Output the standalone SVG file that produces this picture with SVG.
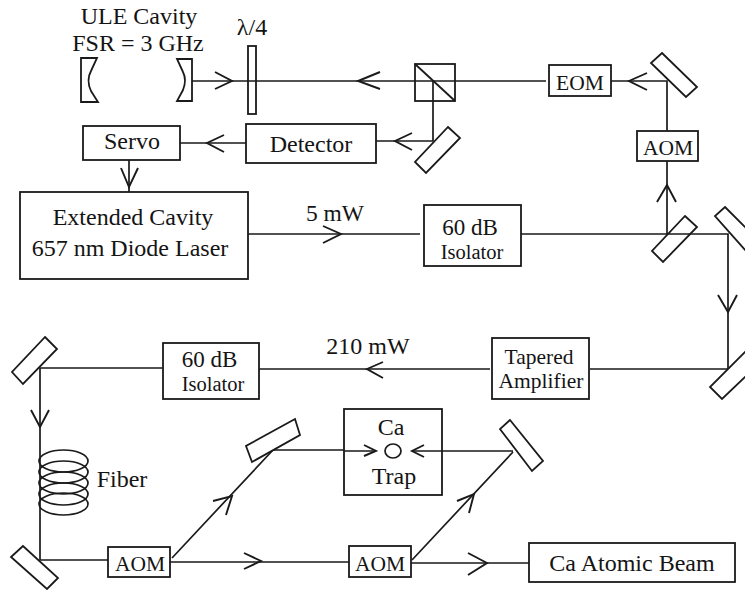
<svg xmlns="http://www.w3.org/2000/svg" width="745" height="590" viewBox="0 0 745 590">
<style>
text{font-family:"Liberation Serif","Times New Roman",serif;fill:#141414;text-anchor:middle;font-size:24px}
.a{font-size:21.5px}.s{font-size:20.5px}.d{font-size:23px}
.b{fill:#fff;stroke:#1a1a1a;stroke-width:1.8}
.o{fill:none;stroke:#1a1a1a;stroke-width:1.8}
.l{fill:none;stroke:#1a1a1a;stroke-width:1.7}
.h{fill:none;stroke:#1a1a1a;stroke-width:1.9}
</style>
<g id="connectors">
<path class="l" d="M192 81H546M611 81H667V131M667 161V234M433 81V141H376M246 143H180M129 160V192"/>
<path class="l" d="M248 234H420M521 234H728V369H590M490 369H259M163 368H40V560H108M170 562H349M411 563H529"/>
<path class="l" d="M172 558L273 450H344M412 560L513 452M412 451H513M344 451H376"/>
<path class="h" d="M215 72L232 81L215 89M380 72L358 81L380 89M647 73L629 81L647 90"/>
<path class="h" d="M412 133L395 141L412 150M224 135L207 143L224 152M121 168L129 187L138 168"/>
<path class="h" d="M323 226L341 234L323 243M657 202L667 185L676 202M718 295L728 312L737 295"/>
<path class="h" d="M383 362L367 369L383 378M31 410L40 427L49 410M213 501L232 496L226 515"/>
<path class="h" d="M244 553L261 561L244 569M468 553L487 563L468 575M457 501L474 494L469 513"/>
<path class="h" d="M364 445L376 451L364 456M424 445L412 451L424 457"/>
</g>
<g id="cavity">
<path class="o" d="M81 58H97L91 71Q86 80 91 91L98 102H81Z"/>
<path class="o" d="M192 59H177L183 72Q187 80 183 90L177 101H192Z"/>
<text x="139" y="24">ULE Cavity</text>
<text x="138" y="51">FSR = 3 GHz</text>
</g>
<g id="waveplate">
<rect class="o" x="248" y="46" width="8" height="68"/>
<text x="252" y="35">λ/4</text>
</g>
<g id="splitter">
<rect class="o" x="415" y="64" width="40" height="37"/>
<path class="o" d="M415 64L455 101"/>
</g>
<g id="eom"><rect class="b" x="549" y="65" width="62" height="31"/><text class="a" x="580" y="90">EOM</text></g>
<g id="mirror1"><polygon class="b" points="662,53 697,87 686,97 651,63"/></g>
<g id="mirror2"><polygon class="b" points="448,127 460,138 426,173 415,162"/></g>
<g id="aom1"><rect class="b" x="637" y="131" width="61" height="30"/><text class="a" x="668" y="155">AOM</text></g>
<g id="servo"><rect class="b" x="83" y="126" width="97" height="34"/><text x="132" y="149">Servo</text></g>
<g id="detector"><rect class="b" x="246" y="124" width="130" height="39"/><text x="311" y="152">Detector</text></g>
<g id="laser"><rect class="b" x="20" y="192" width="228" height="87"/><text x="133" y="225">Extended Cavity</text><text x="130" y="256">657 nm Diode Laser</text></g>
<g id="power5"><text x="335" y="221" style="font-size:23.5px">5 mW</text></g>
<g id="iso1"><rect class="b" x="424" y="205" width="97" height="61"/><text class="d" x="470" y="235">60 dB</text><text class="s" x="472" y="259">Isolator</text></g>
<g id="mirror3"><polygon class="o" points="685,216 697,227 663,262 652,251"/></g>
<g id="mirror4"><polygon class="b" points="725,207 746,228 746,251 715,216"/></g>
<g id="mirror5"><polygon class="b" points="746,351 710,387 722,399 746,376"/></g>
<g id="amp"><rect class="b" x="492" y="338" width="97" height="61"/><text class="a" x="539" y="364">Tapered</text><text class="a" x="541" y="388">Amplifier</text></g>
<g id="power210"><text x="368" y="354">210 mW</text></g>
<g id="iso2"><rect class="b" x="163" y="343" width="96" height="56"/><text class="d" x="209.500" y="367">60 dB</text><text class="s" x="213" y="391">Isolator</text></g>
<g id="mirror6"><polygon class="b" points="45,337 57,349 23,384 12,372"/></g>
<g id="fiber">
<ellipse class="l" cx="63.500" cy="461" rx="24.500" ry="11"/>
<ellipse class="l" cx="63.500" cy="472" rx="24.500" ry="11"/>
<ellipse class="l" cx="63.500" cy="483" rx="24.500" ry="11"/>
<ellipse class="l" cx="63.500" cy="494" rx="24.500" ry="11"/>
<ellipse class="l" cx="63.500" cy="504" rx="24.500" ry="11"/>
<text x="122" y="487">Fiber</text>
</g>
<g id="mirror7"><polygon class="b" points="23,546 11,557 47,589 58,578"/></g>
<g id="aom2"><rect class="b" x="108" y="547" width="62" height="30"/><text class="a" x="140" y="571">AOM</text></g>
<g id="mirror8"><polygon class="b" points="295,419 300,435 252,462 246,446"/></g>
<g id="trap"><rect class="o" x="344" y="409" width="98" height="86"/><text x="391" y="435">Ca</text><ellipse class="l" cx="393" cy="451" rx="8" ry="7"/><text x="394" y="484">Trap</text></g>
<g id="mirror9"><polygon class="b" points="510,420 500,429 532,471 543,461"/></g>
<g id="aom3"><rect class="b" x="349" y="546" width="62" height="31"/><text class="a" x="380" y="571">AOM</text></g>
<g id="beam"><rect class="b" x="529" y="543" width="206" height="39"/><text x="632" y="571">Ca Atomic Beam</text></g>
</svg>
